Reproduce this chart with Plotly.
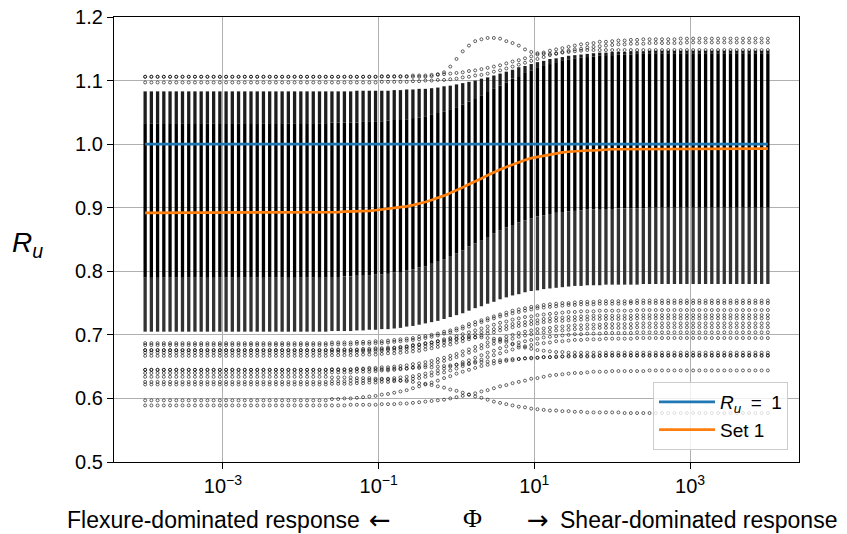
import numpy as np
import plotly.graph_objects as go

# ---------------- data ----------------
PHI = np.logspace(-4, 4, 101)          # sampling grid of the parameter Phi

X_TICK_VALUES = [1e-3, 1e-1, 1e1, 1e3]
X_TICK_LABELS = ["10<sup>−3</sup>", "10<sup>−1</sup>", "10<sup>1</sup>", "10<sup>3</sup>"]
Y_TICK_VALUES = [0.5, 0.6, 0.7, 0.8, 0.9, 1.0, 1.1, 1.2]
Y_TICK_LABELS = ["0.5", "0.6", "0.7", "0.8", "0.9", "1.0", "1.1", "1.2"]

RU_ONE = [1.0] * 101

SET1 = [0.892] * 30 + [
    .893, .893, .894, .894, .894, .895, .895, .896, .897, .898,
    .899, .900, .902, .904, .906, .909, .912, .915, .919, .923,
    .927, .932, .937, .941, .946, .951, .956, .960, .964, .968,
    .972, .975, .978, .980, .982, .984, .985, .987, .988, .989,
    .989, .990, .990, .991, .991, .992, .992, .992, .992, .992, .993] + [0.993] * 20

# dense band of the parameter study (per Phi column)
BAND_TOP = [1.083] * 30 + [
    1.083, 1.083, 1.083, 1.083, 1.084, 1.084, 1.084, 1.084, 1.084, 1.084,
    1.085, 1.085, 1.086, 1.086, 1.087, 1.087, 1.088, 1.089, 1.091, 1.092,
    1.094, 1.096, 1.098, 1.100, 1.103, 1.105, 1.108, 1.111, 1.114, 1.117,
    1.121, 1.123, 1.126, 1.129, 1.131, 1.134, 1.135, 1.137, 1.139, 1.140,
    1.141, 1.142, 1.143, 1.144, 1.144, 1.145, 1.145, 1.145, 1.146, 1.146, 1.146] + [1.147] * 20
SOLID_TOP = [1.033] * 30 + [
    1.034, 1.034, 1.034, 1.034, 1.034, 1.035, 1.035, 1.036, 1.036, 1.037,
    1.038, 1.038, 1.039, 1.041, 1.042, 1.044, 1.046, 1.049, 1.051, 1.055,
    1.058, 1.062, 1.067, 1.071, 1.076, 1.082, 1.087, 1.092, 1.097, 1.103,
    1.107, 1.112, 1.116, 1.120, 1.123, 1.126, 1.129, 1.131, 1.133, 1.135,
    1.136, 1.137, 1.138, 1.139, 1.140, 1.140, 1.141, 1.141, 1.141, 1.142, 1.142] + [1.143] * 20
SOLID_LO = [0.790] * 30 + [
    .791, .791, .792, .792, .793, .793, .794, .795, .795, .796,
    .798, .799, .801, .803, .806, .808, .812, .815, .819, .824,
    .828, .833, .839, .844, .849, .854, .860, .864, .869, .873,
    .877, .880, .883, .886, .888, .890, .892, .893, .894, .895,
    .896, .897, .897, .898, .898, .898, .899, .899, .899, .899, .899] + [0.900] * 20
GRAY_LO = [0.705] * 30 + [
    .706, .706, .706, .706, .707, .707, .708, .708, .709, .709,
    .710, .711, .713, .714, .716, .718, .720, .722, .725, .728,
    .731, .734, .738, .742, .745, .749, .752, .756, .759, .762,
    .764, .767, .769, .770, .772, .773, .774, .775, .776, .777,
    .777, .778, .778, .778, .779, .779, .779, .779, .779, .779, .780] + [0.780] * 20

# isolated (sparse) curves
TOP_ROW_1 = [1.106] * 38 + [
    1.107, 1.107, 1.107, 1.107, 1.107, 1.108, 1.108, 1.108, 1.109, 1.110,
    1.110, 1.111, 1.112, 1.113, 1.115, 1.116, 1.118, 1.120, 1.122, 1.124,
    1.127, 1.130, 1.132, 1.135, 1.138, 1.141, 1.144, 1.147, 1.149, 1.151,
    1.153, 1.155, 1.157, 1.158, 1.159, 1.161, 1.161, 1.162, 1.163, 1.163,
    1.164, 1.164, 1.165, 1.165, 1.165, 1.165, 1.165, 1.165, 1.166, 1.166, 1.166] + [1.166] * 12
TOP_ROW_2 = [1.097] * 38 + [
    1.098, 1.098, 1.098, 1.098, 1.098, 1.099, 1.099, 1.100, 1.100, 1.101,
    1.101, 1.102, 1.103, 1.105, 1.106, 1.108, 1.109, 1.111, 1.114, 1.116,
    1.119, 1.122, 1.125, 1.128, 1.131, 1.134, 1.137, 1.140, 1.142, 1.145,
    1.147, 1.149, 1.150, 1.152, 1.153, 1.154, 1.155, 1.156, 1.157, 1.157,
    1.158, 1.158, 1.158, 1.159, 1.159, 1.159, 1.159, 1.159, 1.159, 1.160, 1.160] + [1.160] * 12
BUMP_TOP = [1.106] * 46 + [
    1.107, 1.109, 1.113, 1.122, 1.134, 1.146, 1.155, 1.162, 1.165, 1.167,
    1.167, 1.166, 1.162, 1.159, 1.155, 1.149, 1.145, 1.143, 1.142, 1.142,
    1.143, 1.144, 1.145, 1.146, 1.147] + [1.148] * 30

LOW_A = [0.687] * 30 + [
    .688, .688, .688, .688, .689, .689, .689, .690, .690, .691,
    .692, .693, .694, .695, .697, .698, .700, .702, .705, .707,
    .710, .713, .717, .720, .723, .726, .729, .732, .735, .738,
    .740, .742, .744, .745, .747, .748, .749, .750, .750, .751,
    .752, .752, .752, .753, .753, .753, .753, .753, .753, .754, .754] + [0.754] * 20
LOW_B = [0.684] * 30 + [
    .685, .685, .685, .685, .686, .686, .686, .687, .687, .688,
    .689, .690, .691, .692, .693, .695, .697, .699, .702, .704,
    .707, .710, .713, .716, .720, .723, .726, .729, .731, .734,
    .736, .738, .740, .742, .743, .744, .745, .746, .747, .747,
    .748, .748, .748, .749, .749, .749, .749, .749, .750, .750, .750] + [0.750] * 20
LOW_C = [0.676] * 30 + [
    .677, .677, .677, .677, .677, .678, .678, .679, .679, .680,
    .680, .681, .682, .684, .685, .687, .688, .690, .693, .695,
    .698, .701, .704, .707, .710, .713, .716, .719, .721, .724,
    .726, .728, .729, .731, .732, .733, .734, .735, .736, .736,
    .737, .737, .737, .738, .738, .738, .738, .738, .738, .739, .739] + [0.739] * 20
LOW_D = [0.672] * 30 + [
    .673, .673, .673, .673, .673, .674, .674, .674, .675, .676,
    .676, .677, .678, .679, .680, .682, .684, .686, .688, .690,
    .693, .695, .698, .701, .704, .707, .709, .712, .714, .717,
    .719, .720, .722, .723, .725, .726, .727, .727, .728, .728,
    .729, .729, .730, .730, .730, .730, .730, .730, .730, .731, .731] + [0.731] * 20
LOW_E = [0.667] * 30 + [
    .668, .668, .668, .668, .668, .669, .669, .669, .670, .671,
    .671, .672, .673, .674, .675, .677, .679, .681, .683, .685,
    .688, .690, .693, .696, .699, .702, .704, .707, .709, .712,
    .714, .715, .717, .718, .720, .721, .722, .722, .723, .723,
    .724, .724, .725, .725, .725, .725, .725, .725, .725, .726, .726] + [0.726] * 20
LOW_F = [0.645] * 30 + [
    .646, .646, .646, .646, .647, .647, .648, .648, .649, .649,
    .650, .651, .652, .654, .655, .657, .659, .662, .664, .667,
    .670, .674, .677, .681, .684, .688, .691, .694, .697, .700,
    .703, .705, .707, .709, .710, .711, .713, .713, .714, .715,
    .715, .716, .716, .716, .717, .717, .717, .717, .717, .718, .718] + [0.718] * 20
LOW_G = [0.640] * 30 + [
    .641, .641, .641, .641, .642, .642, .642, .643, .644, .644,
    .645, .646, .647, .649, .650, .652, .654, .657, .659, .662,
    .665, .668, .672, .675, .679, .682, .686, .689, .692, .694,
    .697, .699, .701, .703, .704, .705, .707, .707, .708, .709,
    .709, .710, .710, .711, .711, .711, .711, .711, .711, .712, .712] + [0.712] * 20
LOW_H = [0.626] * 30 + [
    .627, .627, .627, .628, .628, .628, .629, .629, .630, .631,
    .632, .633, .634, .635, .637, .639, .641, .644, .647, .650,
    .653, .657, .660, .664, .668, .672, .675, .679, .682, .685,
    .688, .690, .692, .694, .696, .697, .698, .699, .700, .701,
    .701, .702, .702, .702, .703, .703, .703, .703, .703, .704, .704] + [0.704] * 20
LOW_I = [0.622] * 30 + [
    .623, .623, .623, .623, .624, .624, .625, .625, .626, .626,
    .627, .628, .629, .631, .632, .634, .636, .639, .641, .644,
    .647, .651, .654, .658, .661, .665, .668, .671, .674, .677,
    .680, .682, .684, .686, .687, .688, .690, .690, .691, .692,
    .692, .693, .693, .693, .694, .694, .694, .694, .694, .695, .695] + [0.695] * 20
LOW_J = [0.676] * 36 + [
    .676, .677, .677, .678, .679, .680, .681, .683, .684, .686,
    .688, .690, .691, .693, .694, .695, .696, .696, .696, .695,
    .694, .692, .689, .686, .683, .680, .678, .676, .675, .674,
    .673, .673, .672, .672, .672] + [0.672] * 30
LOW_K = [0.645] * 30 + [
    .645, .645, .645, .645, .646, .646, .646, .646, .646, .646,
    .647, .647, .647, .648, .648, .649, .649, .650, .651, .652,
    .653, .654, .655, .656, .657, .658, .659, .660, .661, .662,
    .662, .663, .664, .664, .665, .665, .665, .666, .666, .666,
    .666, .666, .666, .667, .667, .667, .667, .667, .667, .667, .667] + [0.667] * 20
RISE_EARLY = [0.597] * 30 + [
    .599, .599, .600, .600, .601, .602, .603, .604, .606, .607,
    .609, .611, .613, .616, .619, .622, .625, .628, .632, .635,
    .639, .642, .645, .648, .651, .653, .655, .657, .659, .660,
    .662, .663, .663, .664, .665, .665, .666, .666, .667, .667,
    .667, .667, .667, .667, .668, .668] + [0.668] * 25
RISE_LATE = [0.589] * 33 + [
    .590, .590, .590, .590, .590, .591, .591, .591, .592, .592,
    .593, .594, .595, .596, .597, .598, .600, .602, .604, .606,
    .608, .611, .613, .616, .619, .621, .624, .626, .628, .631,
    .632, .634, .636, .637, .638, .639, .640, .640, .641, .642,
    .642, .642, .643, .643, .643, .643, .643, .643, .644, .644, .644] + [0.644] * 17
DESCENT = [0.634] * 30 + [
    .633, .633, .633, .633, .632, .632, .632, .631, .631, .630,
    .629, .628, .627, .626, .624, .623, .621, .619, .617, .614,
    .612, .609, .606, .603, .601, .598, .595, .593, .591, .589,
    .587, .586, .584, .583, .582, .581, .581, .580, .580, .579,
    .579, .578, .578, .578, .578, .578, .578, .577, .577, .577] + [0.577] * 21

SPARSE_CURVES = [TOP_ROW_1, TOP_ROW_2, BUMP_TOP, LOW_A, LOW_B, LOW_C, LOW_D, LOW_E,
                 LOW_F, LOW_G, LOW_H, LOW_I, LOW_J, LOW_K, RISE_EARLY, RISE_LATE, DESCENT]
for arr in SPARSE_CURVES + [SET1, BAND_TOP, SOLID_TOP, SOLID_LO, GRAY_LO, RU_ONE]:
    assert len(arr) == len(PHI), len(arr)

FONT = "Liberation Sans, Arial, sans-serif"
ARROW_FONT = "DejaVu Sans, sans-serif"

# ---------------- figure ----------------
fig = go.Figure()


def column_segments(lo, hi):
    xs, ys = [], []
    for x, a, b in zip(PHI, lo, hi):
        xs += [x, x, None]
        ys += [a, b, None]
    return xs, ys


for lo, hi, color in [(GRAY_LO, SOLID_LO, "#333333"),
                      (SOLID_TOP, BAND_TOP, "#1e1e1e"),
                      (SOLID_LO, SOLID_TOP, "#000000")]:
    xs, ys = column_segments(lo, hi)
    fig.add_trace(go.Scatter(x=xs, y=ys, mode="lines",
                             line=dict(color=color, width=3.3),
                             showlegend=False, hoverinfo="skip"))

sx, sy = [], []
for curve in SPARSE_CURVES:
    sx += list(PHI) + [None]
    sy += list(curve) + [None]
fig.add_trace(go.Scatter(x=sx, y=sy, mode="markers",
                         marker=dict(symbol="circle-open", size=3, color="rgba(0,0,0,0.6)",
                                     line=dict(width=1)),
                         showlegend=False, hoverinfo="skip"))

fig.add_trace(go.Scatter(x=PHI, y=RU_ONE, mode="lines",
                         name="<i>R<sub>u</sub></i>\u2002=\u20021",
                         line=dict(color="#1f77b4", width=2.7)))
fig.add_trace(go.Scatter(x=PHI, y=SET1, mode="lines", name="Set 1",
                         line=dict(color="#ff7f0e", width=2.7)))

axis_common = dict(showgrid=True, gridcolor="#b0b0b0", gridwidth=1, zeroline=False,
                   showline=True, linecolor="black", linewidth=1.2, mirror=True,
                   ticks="outside", ticklen=6, tickwidth=1.2, tickcolor="black",
                   automargin=False,
                   tickfont=dict(family=FONT, size=20, color="black"))

fig.update_xaxes(type="log", range=[-4.4, 4.4], tickvals=X_TICK_VALUES,
                 ticktext=X_TICK_LABELS, **axis_common)
fig.update_yaxes(range=[0.5, 1.2], tickvals=Y_TICK_VALUES, ticktext=Y_TICK_LABELS,
                 **axis_common)


def px_x(x):
    return (x - 114) / 685.0


def px_y(y):
    return (462 - y) / 445.0


label_y = px_y(520)
fig.update_layout(
    width=847, height=534, autosize=False,
    margin=dict(l=114, r=48, t=17, b=72, autoexpand=False),
    paper_bgcolor="white", plot_bgcolor="white",
    font=dict(family=FONT, size=20, color="black"),
    legend=dict(x=px_x(788), y=px_y(450), xanchor="right", yanchor="bottom",
                bgcolor="rgba(255,255,255,0.8)", bordercolor="#cccccc", borderwidth=1,
                itemwidth=56, tracegroupgap=4,
                font=dict(family=FONT, size=19, color="black")),
    annotations=[
        dict(text="<i>R<sub>u</sub></i>", xref="paper", yref="paper", x=px_x(27), y=px_y(245),
             xanchor="center", yanchor="middle", showarrow=False,
             font=dict(family=FONT, size=28, color="black")),
        dict(text="Flexure-dominated response", xref="paper", yref="paper", x=px_x(362), y=label_y,
             xanchor="right", yanchor="middle", showarrow=False,
             font=dict(family=FONT, size=23, color="black")),
        dict(text="←", xref="paper", yref="paper", x=px_x(380), y=label_y,
             xanchor="center", yanchor="middle", showarrow=False,
             font=dict(family=ARROW_FONT, size=26, color="black")),
        dict(text="Φ", xref="paper", yref="paper", x=px_x(472), y=px_y(518),
             xanchor="center", yanchor="middle", showarrow=False,
             font=dict(family="Liberation Serif, DejaVu Serif, serif", size=26, color="black")),
        dict(text="→", xref="paper", yref="paper", x=px_x(538), y=label_y,
             xanchor="center", yanchor="middle", showarrow=False,
             font=dict(family=ARROW_FONT, size=26, color="black")),
        dict(text="Shear-dominated response", xref="paper", yref="paper", x=px_x(558), y=label_y,
             xanchor="left", yanchor="middle", showarrow=False,
             font=dict(family=FONT, size=23, color="black")),
    ],
)

fig.write_html("out.html")
